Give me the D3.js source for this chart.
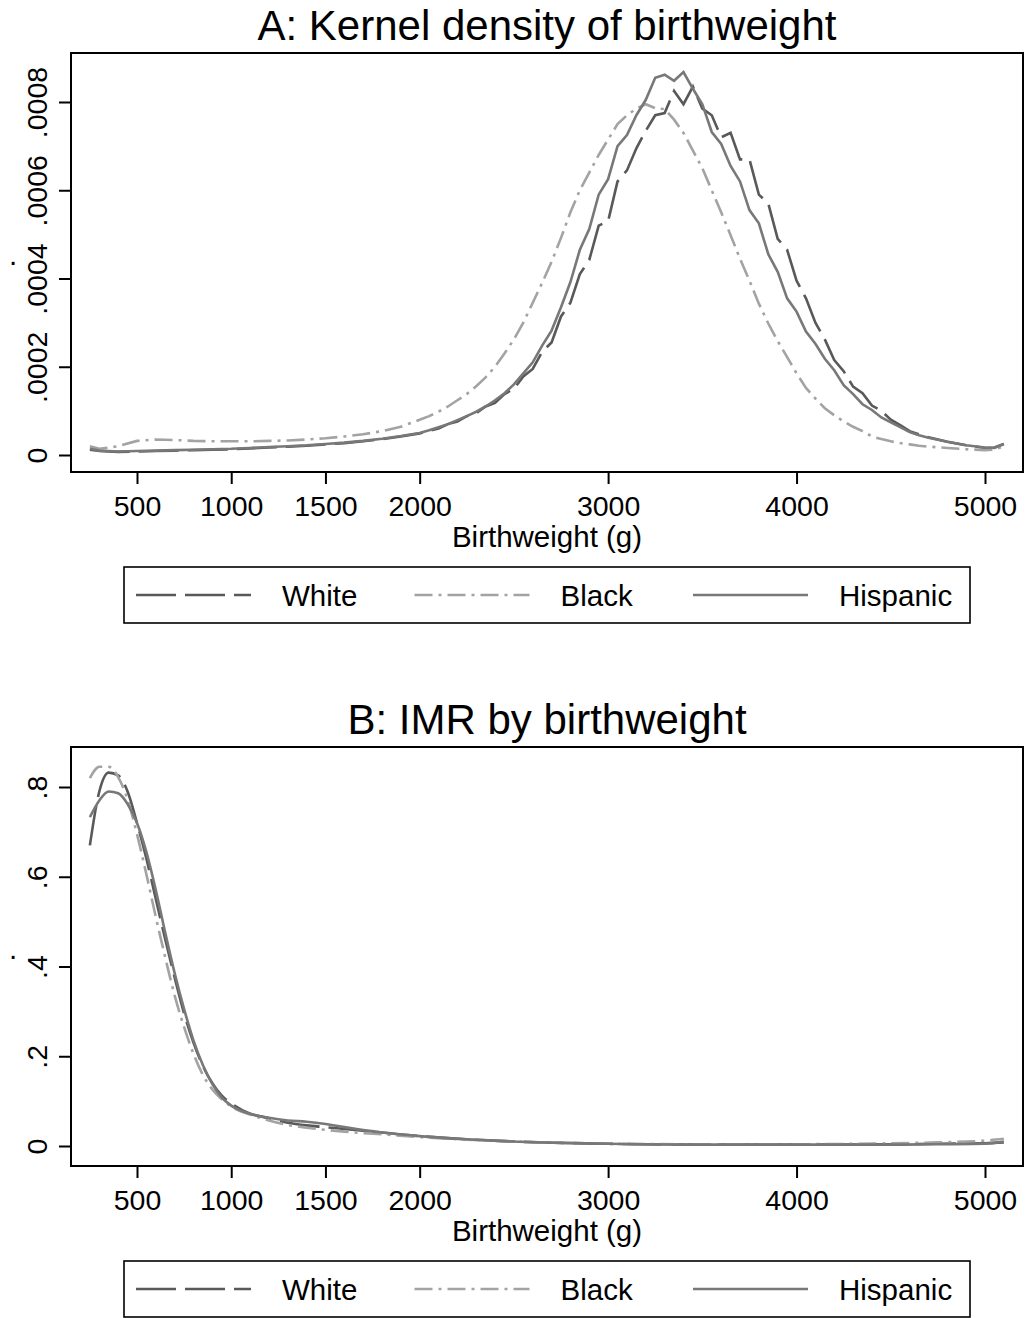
<!DOCTYPE html>
<html lang="en">
<head>
<meta charset="UTF-8">
<title>Birthweight: kernel density and IMR</title>
<script src="https://d3js.org/d3.v7.min.js"></script>
<style>
  body { margin: 0; background: #fff; }
  svg { display: block; font-family: "Liberation Sans", Arial, sans-serif; }
</style>
</head>
<body>
<script>
// groups, in legend order
const groups = ['White', 'Black', 'Hispanic'];

// x axis
const xTicks = [500, 1000, 1500, 2000, 3000, 4000, 5000];

// panel A: kernel density (units of 1e-4)
const yTicksA = [0, 2, 4, 6, 8];
const yLabelsA = ['0', '.0002', '.0004', '.0006', '.0008'];
const gridA = [
  250, 300, 400, 500, 600, 700, 800, 900, 1000, 1100,
  1200, 1300, 1400, 1500, 1600, 1700, 1800, 1900, 2000, 2050,
  2100, 2150, 2200, 2250, 2300, 2350, 2400, 2450, 2500, 2550,
  2600, 2650, 2700, 2750, 2800, 2850, 2900, 2950, 3000, 3050,
  3100, 3150, 3200, 3250, 3300, 3350, 3400, 3450, 3500, 3550,
  3600, 3650, 3700, 3750, 3800, 3850, 3900, 3950, 4000, 4050,
  4100, 4150, 4200, 4250, 4300, 4350, 4400, 4450, 4500, 4550,
  4600, 4650, 4700, 4800, 4900, 5000, 5050, 5100
];
const whiteA = [
  0.12, 0.09, 0.07, 0.08, 0.09, 0.10, 0.11, 0.12, 0.13, 0.15,
  0.17, 0.19, 0.21, 0.24, 0.27, 0.31, 0.36, 0.42, 0.49, 0.55,
  0.60, 0.70, 0.76, 0.88, 0.95, 1.10, 1.18, 1.38, 1.50, 1.78,
  1.95, 2.34, 2.55, 3.14, 3.45, 4.10, 4.42, 5.20, 5.30, 6.20,
  6.45, 6.95, 7.35, 7.70, 7.75, 8.25, 7.95, 8.35, 7.85, 7.70,
  7.20, 7.30, 6.70, 6.70, 5.90, 5.70, 4.90, 4.65, 3.95, 3.55,
  3.00, 2.62, 2.15, 1.90, 1.55, 1.40, 1.12, 1.00, 0.80, 0.68,
  0.54, 0.47, 0.40, 0.30, 0.22, 0.16, 0.17, 0.25
];
const blackA = [
  0.20, 0.14, 0.20, 0.32, 0.35, 0.34, 0.32, 0.31, 0.31, 0.31,
  0.32, 0.33, 0.35, 0.38, 0.42, 0.47, 0.54, 0.64, 0.80, 0.88,
  0.98, 1.10, 1.24, 1.38, 1.56, 1.76, 2.00, 2.30, 2.62, 3.00,
  3.45, 3.90, 4.38, 4.92, 5.50, 6.00, 6.40, 6.80, 7.15, 7.50,
  7.70, 7.85, 7.95, 7.86, 7.84, 7.60, 7.30, 6.90, 6.50, 6.00,
  5.50, 4.98, 4.45, 3.95, 3.43, 2.98, 2.58, 2.22, 1.85, 1.52,
  1.28, 1.06, 0.90, 0.76, 0.64, 0.54, 0.42, 0.36, 0.31, 0.27,
  0.24, 0.21, 0.19, 0.16, 0.13, 0.11, 0.12, 0.20
];
const hispanicA = [
  0.14, 0.10, 0.08, 0.09, 0.10, 0.11, 0.12, 0.13, 0.14, 0.16,
  0.18, 0.20, 0.22, 0.25, 0.28, 0.32, 0.37, 0.43, 0.50, 0.56,
  0.63, 0.70, 0.79, 0.88, 0.98, 1.10, 1.24, 1.40, 1.60, 1.85,
  2.10, 2.48, 2.82, 3.35, 3.92, 4.65, 5.12, 5.90, 6.25, 7.00,
  7.25, 7.70, 8.05, 8.55, 8.62, 8.48, 8.68, 8.30, 7.95, 7.32,
  7.05, 6.55, 6.20, 5.55, 5.25, 4.55, 4.15, 3.55, 3.25, 2.80,
  2.52, 2.18, 1.92, 1.58, 1.38, 1.15, 1.02, 0.85, 0.74, 0.63,
  0.52, 0.45, 0.39, 0.30, 0.22, 0.17, 0.16, 0.25
];

// panel B: infant mortality rate
const yTicksB = [0, 0.2, 0.4, 0.6, 0.8];
const yLabelsB = ['0', '.2', '.4', '.6', '.8'];
const gridB = [
  250, 300, 350, 400, 450, 500, 550, 600, 650, 700,
  750, 800, 850, 900, 950, 1000, 1100, 1200, 1300, 1400,
  1500, 1600, 1800, 2000, 2250, 2500, 2750, 3000, 3500, 4000,
  4500, 4750, 5000, 5100
];
const whiteB = [
  0.67, 0.79, 0.832, 0.826, 0.79, 0.72, 0.64, 0.55, 0.46, 0.375,
  0.295, 0.23, 0.178, 0.14, 0.112, 0.095, 0.072, 0.062, 0.052, 0.046,
  0.042, 0.038, 0.03, 0.022, 0.015, 0.01, 0.007, 0.005, 0.003, 0.003,
  0.004, 0.005, 0.006, 0.008
];
const blackB = [
  0.82, 0.845, 0.845, 0.822, 0.772, 0.695, 0.605, 0.51, 0.42, 0.335,
  0.265, 0.205, 0.158, 0.126, 0.104, 0.088, 0.07, 0.057, 0.047, 0.041,
  0.036, 0.032, 0.026, 0.02, 0.014, 0.01, 0.007, 0.005, 0.004, 0.004,
  0.006, 0.008, 0.012, 0.016
];
const hispanicB = [
  0.733, 0.77, 0.79, 0.786, 0.762, 0.72, 0.655, 0.57, 0.475, 0.385,
  0.305, 0.235, 0.18, 0.138, 0.108, 0.09, 0.072, 0.063, 0.057, 0.054,
  0.049, 0.042, 0.03, 0.022, 0.015, 0.01, 0.007, 0.005, 0.003, 0.003,
  0.003, 0.004, 0.005, 0.01
];

// line styles per group
const styles = {
  White:    { color: '#595959', dash: '40,9' },
  Black:    { color: '#a3a3a3', dash: '18,6,3,6' },
  Hispanic: { color: '#787878', dash: null }
};

const W = 1025, H = 1318;
const boxLeft = 71, boxRight = 1023;

const svg = d3.select('body').append('svg')
  .attr('width', W)
  .attr('height', H);

const x = d3.scaleLinear().domain([500, 5000]).range([137, 985]);

const panels = [
  {
    title: 'A: Kernel density of birthweight',
    top: 53, bottom: 472,
    y: d3.scaleLinear().domain([0, 8]).range([455, 102]),
    ticks: yTicksA, labels: yLabelsA,
    grid: gridA,
    series: { White: whiteA, Black: blackA, Hispanic: hispanicA },
    curve: d3.curveLinear
  },
  {
    title: 'B: IMR by birthweight',
    top: 747, bottom: 1166,
    y: d3.scaleLinear().domain([0, 0.8]).range([1146, 787]),
    ticks: yTicksB, labels: yLabelsB,
    grid: gridB,
    series: { White: whiteB, Black: blackB, Hispanic: hispanicB },
    curve: d3.curveMonotoneX
  }
];

function drawPanel(p) {
  const g = svg.append('g');

  // title
  g.append('text')
    .attr('x', 547).attr('y', p.top - 13)
    .attr('text-anchor', 'middle')
    .attr('font-size', 42)
    .text(p.title);

  // curves
  const line = d3.line()
    .x(d => x(d[0]))
    .y(d => p.y(d[1]))
    .curve(p.curve);

  groups.forEach(name => {
    const pts = p.grid.map((v, i) => [v, p.series[name][i]]);
    g.append('path')
      .datum(pts)
      .attr('fill', 'none')
      .attr('stroke', styles[name].color)
      .attr('stroke-width', 2.6)
      .attr('stroke-dasharray', styles[name].dash)
      .attr('d', line);
  });

  // plot box
  g.append('rect')
    .attr('x', boxLeft).attr('y', p.top)
    .attr('width', boxRight - boxLeft).attr('height', p.bottom - p.top)
    .attr('fill', 'none').attr('stroke', '#000').attr('stroke-width', 2);

  // x axis
  const xAxis = g.append('g')
    .attr('transform', `translate(0,${p.bottom})`)
    .call(d3.axisBottom(x).tickValues(xTicks).tickFormat(d3.format('d')).tickSizeOuter(0).tickSize(12));
  xAxis.select('.domain').remove();
  xAxis.selectAll('line').attr('stroke', '#000').attr('stroke-width', 2);
  xAxis.selectAll('text')
    .attr('font-size', 28.5)
    .attr('fill', '#000')
    .attr('dy', null)
    .attr('y', 44);

  g.append('text')
    .attr('x', 547).attr('y', p.bottom + 75)
    .attr('text-anchor', 'middle')
    .attr('font-size', 29.5)
    .text('Birthweight (g)');

  // y axis
  const yAxis = g.append('g')
    .attr('transform', `translate(${boxLeft},0)`)
    .call(d3.axisLeft(p.y).tickValues(p.ticks).tickFormat((d, i) => p.labels[i]).tickSizeOuter(0).tickSize(12));
  yAxis.select('.domain').remove();
  yAxis.selectAll('line').attr('stroke', '#000').attr('stroke-width', 2);
  yAxis.selectAll('.tick text')
    .attr('font-size', 28.5)
    .attr('fill', '#000')
    .attr('x', null).attr('dy', null)
    .attr('text-anchor', 'middle')
    .attr('transform', 'translate(-24,0) rotate(-90)');

  // y axis title (a single dot)
  g.append('text')
    .attr('x', 13).attr('y', (p.top + p.bottom) / 2 + 2)
    .attr('text-anchor', 'middle')
    .attr('font-size', 29.5)
    .text('.');

  // legend
  const ly = p.bottom + 95;
  const lh = 56;
  g.append('rect')
    .attr('x', 124).attr('y', ly)
    .attr('width', 846).attr('height', lh)
    .attr('fill', 'none').attr('stroke', '#000').attr('stroke-width', 1.6);

  const cx = d3.scalePoint().domain(groups).range([136, 693]);
  groups.forEach(name => {
    const x0 = cx(name);
    const cy = ly + lh / 2;
    g.append('line')
      .attr('x1', x0).attr('x2', x0 + 115)
      .attr('y1', cy).attr('y2', cy)
      .attr('stroke', styles[name].color)
      .attr('stroke-width', 2.6)
      .attr('stroke-dasharray', styles[name].dash);
    g.append('text')
      .attr('x', x0 + 146).attr('y', cy + 11)
      .attr('font-size', 29.5)
      .text(name);
  });
}

panels.forEach(drawPanel);
</script>
</body>
</html>
